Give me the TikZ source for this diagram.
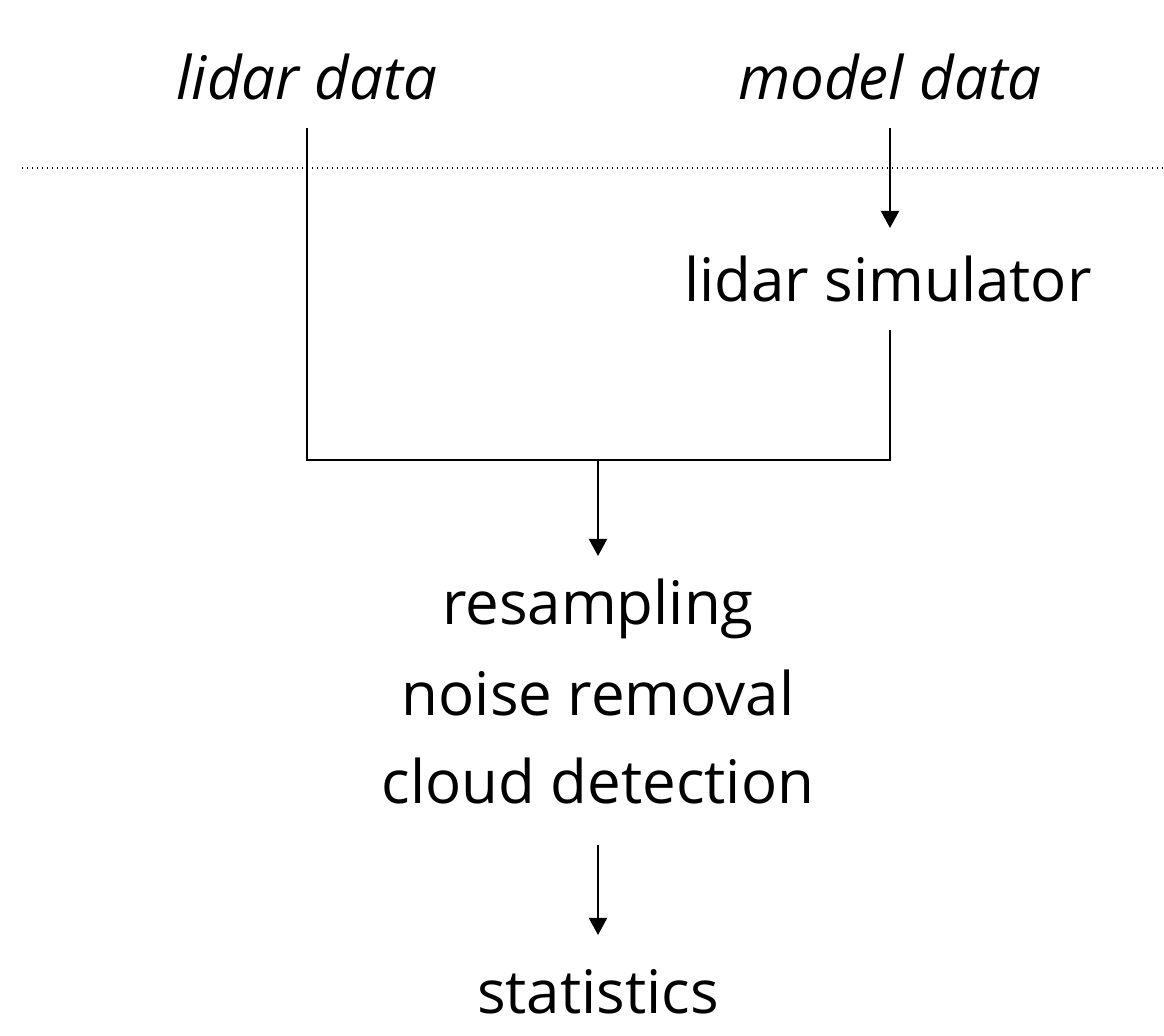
\documentclass[tikz,border=0pt]{standalone}
\usepackage{fontspec}
\setmainfont{Open Sans}
\usetikzlibrary{arrows.meta}
\begin{document}
\begin{tikzpicture}[x=0.5pt,y=-0.5pt,
  lbl/.style={anchor=base,inner sep=0pt,font=\fontsize{30pt}{36pt}\selectfont},
  ilbl/.style={lbl,font=\fontsize{30pt}{36pt}\selectfont\itshape},
  conn/.style={line width=1pt},
  arr/.style={conn,-{Triangle[width=9pt,length=8.5pt]}},
  sep/.style={line width=0.6pt,dash pattern=on 0.6pt off 1.9pt}]
\useasboundingbox (0,0) rectangle (1164,1036);
\node[ilbl] (lidar) at (307,100) {lidar data};
\node[ilbl] (model) at (890,100) {model data};
\node[lbl] (sim) at (888,302) {lidar simulator};
\node[lbl] (res) at (598,625) {resampling};
\node[lbl] (noise) at (598,716) {noise removal};
\node[lbl] (cloud) at (598,804) {cloud detection};
\node[lbl] (stats) at (598,1014) {statistics};
\coordinate (sl) at (22,168);
\coordinate (sr) at (1164,168);
\draw[sep] (sl) -- (sr);
\coordinate (lt) at (307,128);
\coordinate (lb) at (307,460);
\coordinate (mt) at (890,128);
\coordinate (mb) at (890,228);
\coordinate (st) at (890,330);
\coordinate (sb) at (890,460);
\coordinate (jc) at (598,460);
\coordinate (jb) at (598,556);
\coordinate (ct) at (598,845);
\coordinate (cb) at (598,935);
\draw[conn] (lt) -- (lb) -- (sb) -- (st);
\draw[arr] (mt) -- (mb);
\draw[arr] (jc) -- (jb);
\draw[arr] (ct) -- (cb);
\end{tikzpicture}
\end{document}
